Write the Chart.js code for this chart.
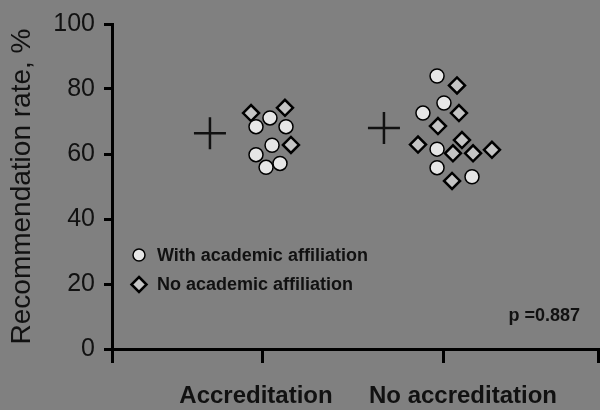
<!DOCTYPE html>
<html>
<head>
<meta charset="utf-8">
<script src="https://cdn.jsdelivr.net/npm/chart.js@4"></script>
<style>
  html, body { margin: 0; padding: 0; background: #808080; }
  canvas { display: block; }
</style>
</head>
<body>
<canvas id="chart" width="600" height="410"></canvas>
<script>
// data
const categories = ['Accreditation', 'No accreditation'];
const categoryTicks = [1, 2.207];
const categoryLabelAt = [0.96, 2.34];
const yTicks = [0, 20, 40, 60, 80, 100];

const withAcademic = [
  [1.053, 71.1], [0.96, 68.4], [1.16, 68.4], [1.067, 62.7], [0.96, 59.8], [1.027, 55.9], [1.12, 57.1],
  [2.167, 84.0], [2.213, 75.7], [2.073, 72.6], [2.167, 61.5], [2.167, 55.8], [2.4, 53.0]
];
const noAcademic = [
  [0.927, 72.6], [1.153, 74.2], [1.193, 62.8],
  [2.3, 81.1], [2.313, 72.6], [2.173, 68.6], [2.333, 64.3], [2.04, 62.9],
  [2.273, 60.2], [2.407, 60.2], [2.533, 61.3], [2.267, 51.7]
];
const groupMeans = [[0.653, 66.4], [1.813, 68.0]];
const pValueText = 'p =0.887';

const FONT = '"Liberation Sans", Arial, sans-serif';
const toPts = arr => arr.map(p => ({ x: p[0], y: p[1] }));

// category labels, legend and p value drawn on top
const annotations = {
  id: 'annotations',
  afterDraw(chart) {
    const ctx = chart.ctx;
    const xs = chart.scales.x;
    ctx.save();
    ctx.fillStyle = '#111';
    ctx.font = 'bold 24px ' + FONT;
    ctx.textAlign = 'center';
    ctx.textBaseline = 'middle';
    categories.forEach((c, i) => {
      ctx.fillText(c, xs.getPixelForValue(categoryLabelAt[i]), 396);
    });

    // legend
    ctx.font = 'bold 18px ' + FONT;
    ctx.textAlign = 'left';
    ctx.fillText('With academic affiliation', 157, 256);
    ctx.fillText('No academic affiliation', 157, 285);
    ctx.lineWidth = 1.5;
    ctx.strokeStyle = '#000';
    ctx.fillStyle = '#e6e6e6';
    ctx.beginPath();
    ctx.arc(139, 255, 6, 0, Math.PI * 2);
    ctx.fill();
    ctx.stroke();
    ctx.lineWidth = 2.5;
    ctx.fillStyle = '#c4c4c4';
    ctx.beginPath();
    ctx.moveTo(139, 277); ctx.lineTo(146.5, 284.5); ctx.lineTo(139, 292); ctx.lineTo(131.5, 284.5);
    ctx.closePath();
    ctx.fill();
    ctx.stroke();

    ctx.fillStyle = '#111';
    ctx.font = 'bold 18px ' + FONT;
    ctx.textAlign = 'right';
    ctx.fillText(pValueText, 580, 316);
    ctx.restore();
  }
};

new Chart(document.getElementById('chart'), {
  type: 'scatter',
  data: {
    datasets: [
      {
        label: 'With academic affiliation',
        data: toPts(withAcademic),
        pointStyle: 'circle',
        pointRadius: 7,
        backgroundColor: '#e6e6e6',
        borderColor: '#000',
        borderWidth: 1.5
      },
      {
        label: 'No academic affiliation',
        data: toPts(noAcademic),
        pointStyle: 'rectRot',
        pointRadius: 8,
        backgroundColor: '#c4c4c4',
        borderColor: '#000',
        borderWidth: 2.5
      },
      {
        label: 'Mean',
        data: toPts(groupMeans),
        pointStyle: 'cross',
        pointRadius: 16,
        borderColor: '#111',
        borderWidth: 2.5
      }
    ]
  },
  options: {
    responsive: false,
    animation: false,
    layout: { autoPadding: false, padding: { top: 20, right: 2, left: 0, bottom: 0 } },
    plugins: {
      legend: { display: false },
      tooltip: { enabled: false }
    },
    scales: {
      x: {
        type: 'linear',
        min: 0,
        max: 3.24,
        afterBuildTicks: s => { s.ticks = [0].concat(categoryTicks, [3.24]).map(v => ({ value: v })); },
        afterFit: s => { s.height = 61; },
        ticks: { display: false },
        grid: { drawOnChartArea: false, drawTicks: true, tickLength: 14, color: '#000', lineWidth: 3 },
        border: { display: true, color: '#000', width: 3 }
      },
      y: {
        min: 0,
        max: 100,
        afterBuildTicks: s => { s.ticks = yTicks.map(v => ({ value: v })); },
        afterFit: s => { s.width = 112; },
        ticks: { color: '#111', font: { family: FONT, size: 25 }, padding: 9 },
        grid: { drawOnChartArea: false, drawTicks: true, tickLength: 8, color: '#000', lineWidth: 3 },
        border: { display: true, color: '#000', width: 3 },
        title: {
          display: true,
          text: 'Recommendation rate, %',
          color: '#111',
          font: { family: FONT, size: 28 },
          padding: { top: 5, bottom: 0 }
        }
      }
    }
  },
  plugins: [annotations]
});
</script>
</body>
</html>
